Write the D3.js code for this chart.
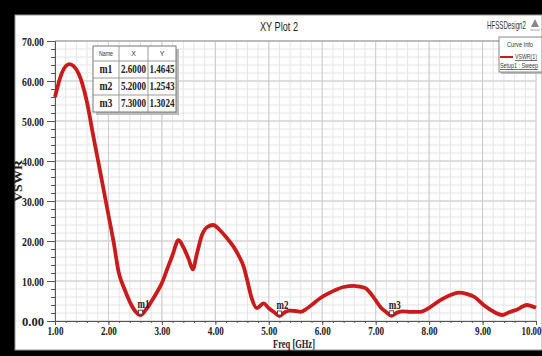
<!DOCTYPE html>
<html>
<head>
<meta charset="utf-8">
<script src="https://cdn.jsdelivr.net/npm/d3@7"></script>
<style>
  body { margin: 0; background: #000; }
  svg { display: block; }
  .tick-label { font-family: "Liberation Serif", "DejaVu Serif", serif; font-weight: bold; font-size: 12px; fill: #222; }
  .sans { font-family: "Liberation Sans", Arial, sans-serif; }
</style>
</head>
<body>
<svg id="chart" width="542" height="356"></svg>
<script>
// Frequency sweep (GHz) and VSWR
const freq = [1.0, 1.125, 1.27, 1.44, 1.59, 1.72, 1.8, 1.9, 2.0, 2.1, 2.19, 2.3, 2.4, 2.5, 2.6, 2.7, 2.8, 2.9, 3.0,
  3.1, 3.2, 3.31, 3.4, 3.5, 3.58, 3.65, 3.75, 3.85, 3.96, 4.1, 4.2, 4.34, 4.45, 4.53, 4.6, 4.68, 4.78, 4.9, 5.0,
  5.1, 5.2, 5.3, 5.4, 5.5, 5.6, 5.7, 5.8, 5.96, 6.1, 6.27, 6.4, 6.59, 6.7, 6.81, 6.9, 7.02, 7.1, 7.2, 7.3, 7.4,
  7.52, 7.65, 7.84, 8.0, 8.21, 8.4, 8.55, 8.7, 8.85, 9.02, 9.15, 9.25, 9.37, 9.5, 9.65, 9.75, 9.83, 9.9, 10.0];
const vswr = [56, 61.9, 64.2, 61.9, 55.2, 46, 40.5, 33.5, 26.5, 19.5, 12.3, 8, 4.8, 2.5, 1.46, 2.8, 4.8, 7, 9.5,
  13, 16.5, 20.2, 18.5, 15.5, 12.9, 16.5, 21.5, 23.5, 24, 22.5, 21, 18.6, 16, 13.6, 10, 5.7, 3.2, 4.4, 3.2,
  2.2, 1.25, 2.2, 2.6, 2.5, 2.3, 3, 4, 5.7, 6.8, 7.9, 8.5, 8.8, 8.6, 8.2, 7, 4.8, 3.3, 2.2, 1.3, 2.1,
  2.4, 2.3, 2.3, 3.3, 5.2, 6.5, 7.1, 6.8, 6, 4, 2.8, 2, 1.5, 2.2, 2.9, 3.6, 4, 3.8, 3.3];

// Markers
const markerNames = ["m1", "m2", "m3"];
const markerX = [2.6, 5.2, 7.3];
const markerY = [1.4645, 1.2543, 1.3024];

const xTicks = [1, 2, 3, 4, 5, 6, 7, 8, 9, 10];
const yTicks = [0, 10, 20, 30, 40, 50, 60, 70];

const svg = d3.select("#chart");

// the screenshot fonts are narrow: scale each text horizontally to its measured width
function squeeze(sel, w) {
  sel.each(function() {
    const n = this.getComputedTextLength();
    if (!n) return;
    const s = w / n;
    const x0 = +(this.getAttribute("x") || 0);
    const prev = this.getAttribute("transform") || "";
    this.setAttribute("transform", prev + " translate(" + x0 + ",0) scale(" + s + ",1) translate(" + (-x0) + ",0)");
  });
  return sel;
}

// black frame + white panel
svg.append("rect").attr("width", 542).attr("height", 356).attr("fill", "#000");
svg.append("rect").attr("x", 15).attr("y", 15).attr("width", 527).attr("height", 335)
  .attr("fill", "#fff").attr("stroke", "#999").attr("stroke-width", 1);

const x = d3.scaleLinear().domain([1, 10]).range([55, 536]);
const y = d3.scaleLinear().domain([0, 70]).range([321, 41]);

// grid
const grid = svg.append("g");
grid.selectAll(".vminor").data(d3.range(1, 10.001, 0.2)).enter().append("line")
  .attr("x1", d => x(d)).attr("x2", d => x(d)).attr("y1", y(70)).attr("y2", y(0))
  .attr("stroke", "#e4e4e4").attr("stroke-width", 1);
grid.selectAll(".hminor").data(d3.range(0, 70.001, 2)).enter().append("line")
  .attr("x1", x(1)).attr("x2", x(10)).attr("y1", d => y(d)).attr("y2", d => y(d))
  .attr("stroke", "#e4e4e4").attr("stroke-width", 1);
grid.selectAll(".vmajor").data(xTicks).enter().append("line")
  .attr("x1", d => x(d)).attr("x2", d => x(d)).attr("y1", y(70)).attr("y2", y(0))
  .attr("stroke", "#cccccc").attr("stroke-width", 1);
grid.selectAll(".hmajor").data(yTicks).enter().append("line")
  .attr("x1", x(1)).attr("x2", x(10)).attr("y1", d => y(d)).attr("y2", d => y(d))
  .attr("stroke", "#cccccc").attr("stroke-width", 1);

// axes
const yAxis = svg.append("g").attr("transform", "translate(" + x(1) + ",0)")
  .call(d3.axisLeft(y).tickValues(yTicks).tickSize(8).tickFormat(d3.format(".2f")));
const yMinor = svg.append("g").attr("transform", "translate(" + x(1) + ",0)")
  .call(d3.axisLeft(y).tickValues(d3.range(0, 70.001, 2)).tickSize(4).tickFormat(""));
const xAxis = svg.append("g").attr("transform", "translate(0," + y(0) + ")")
  .call(d3.axisBottom(x).tickValues(xTicks).tickSize(4).tickFormat(d3.format(".2f")));
const xMinor = svg.append("g").attr("transform", "translate(0," + y(0) + ")")
  .call(d3.axisBottom(x).tickValues(d3.range(1, 10.001, 0.2)).tickSize(2).tickFormat(""));

[yAxis, yMinor, xAxis, xMinor].forEach(a => {
  a.select(".domain").attr("stroke", "#555");
  a.selectAll(".tick line").attr("stroke", "#555");
});
squeeze(yAxis.selectAll("text").attr("class", "tick-label").attr("x", -11).attr("dy", "0.35em"), 22);
xAxis.selectAll("text").attr("class", "tick-label").attr("y", 5).attr("dy", "0.71em");
// last label sits against the right edge, as in the screenshot
xAxis.selectAll("text").filter(d => d === 10).attr("text-anchor", "end").attr("x", 5);
xAxis.selectAll("text").each(function(d) { squeeze(d3.select(this), d >= 10 ? 20 : 16); });

// top border of plot
svg.append("line").attr("x1", x(1)).attr("x2", x(10)).attr("y1", y(70)).attr("y2", y(70))
  .attr("stroke", "#999");

// axis titles
squeeze(svg.append("text").attr("class", "tick-label").attr("x", 294).attr("y", 348)
  .attr("text-anchor", "middle").style("font-size", "12px").text("Freq [GHz]"), 42);
squeeze(svg.append("text").attr("class", "tick-label")
  .attr("transform", "translate(22,181) rotate(-90)")
  .attr("text-anchor", "middle").style("font-size", "13px").text("VSWR"), 42);

// title
squeeze(svg.append("text").attr("class", "sans").attr("x", 279).attr("y", 31)
  .attr("text-anchor", "middle").style("font-size", "12px").attr("fill", "#222").text("XY Plot 2"), 38);
squeeze(svg.append("text").attr("class", "sans").attr("x", 487).attr("y", 29)
  .style("font-size", "10px").attr("fill", "#333").text("HFSSDesign2"), 39);
svg.append("path").attr("d", "M535,19 L531,27 L539,27 Z").attr("fill", "#888");
svg.append("line").attr("x1", 530).attr("x2", 540).attr("y1", 30).attr("y2", 30).attr("stroke", "#aaa");

// curve
const path = d3.line().x(d => x(d[0])).y(d => y(d[1])).curve(d3.curveMonotoneX);
svg.append("path").datum(d3.zip(freq, vswr))
  .attr("d", path).attr("fill", "none").attr("stroke", "#c81b1b").attr("stroke-width", 3.8)
  .attr("stroke-linejoin", "round");

// markers on the curve
const mk = svg.append("g");
markerNames.forEach((name, i) => {
  const px = x(markerX[i]), py = y(markerY[i]);
  mk.append("rect").attr("x", px - 2).attr("y", py - 5).attr("width", 4).attr("height", 4)
    .attr("fill", "#fff").attr("stroke", "#333").attr("stroke-width", 0.8);
  squeeze(mk.append("text").attr("class", "tick-label").attr("x", px - 3).attr("y", py - 7)
    .style("font-size", "12px").text(name), 12);
});

// marker table
const tbl = svg.append("g");
const tx = 93, ty = 46, colW = [26, 29, 28], rowH = [15, 17, 17, 17];
const tw = d3.sum(colW), th = d3.sum(rowH);
tbl.append("rect").attr("x", tx + 3).attr("y", ty + 3).attr("width", tw).attr("height", th).attr("fill", "#bbb");
tbl.append("rect").attr("x", tx).attr("y", ty).attr("width", tw).attr("height", th)
  .attr("fill", "#fff").attr("stroke", "#777");
const colX = [tx, tx + colW[0], tx + colW[0] + colW[1], tx + tw];
const rowY = [ty, ty + rowH[0], ty + rowH[0] + rowH[1], ty + rowH[0] + rowH[1] + rowH[2], ty + th];
colX.slice(1, 3).forEach(cx => tbl.append("line").attr("x1", cx).attr("x2", cx).attr("y1", ty).attr("y2", ty + th).attr("stroke", "#999"));
rowY.slice(1, 4).forEach(ry => tbl.append("line").attr("x1", tx).attr("x2", tx + tw).attr("y1", ry).attr("y2", ry).attr("stroke", "#999"));
["Name", "X", "Y"].forEach((h, j) => {
  const t = tbl.append("text").attr("class", "sans").attr("x", (colX[j] + colX[j + 1]) / 2).attr("y", ty + 10)
    .attr("text-anchor", "middle").style("font-size", "7px").attr("fill", "#333").text(h);
  if (h === "Name") squeeze(t, 14);
});
markerNames.forEach((name, i) => {
  const cells = [name, markerX[i].toFixed(4), markerY[i].toFixed(4)];
  cells.forEach((c, j) => {
    squeeze(tbl.append("text").attr("class", "tick-label").attr("x", (colX[j] + colX[j + 1]) / 2)
      .attr("y", (rowY[i + 1] + rowY[i + 2]) / 2 + 4).attr("text-anchor", "middle")
      .style("font-size", "12px").text(c), j === 0 ? 13 : 25);
  });
});

// curve info legend
const lg = svg.append("g");
lg.append("rect").attr("x", 501).attr("y", 39).attr("width", 43).attr("height", 35).attr("fill", "#bbb");
lg.append("rect").attr("x", 499).attr("y", 37).attr("width", 43).attr("height", 35)
  .attr("fill", "#fff").attr("stroke", "#888");
squeeze(lg.append("text").attr("class", "sans").attr("x", 507).attr("y", 47)
  .style("font-size", "7px").attr("fill", "#333").text("Curve Info"), 26);
lg.append("line").attr("x1", 500).attr("x2", 513).attr("y1", 57).attr("y2", 57)
  .attr("stroke", "#c81b1b").attr("stroke-width", 2);
squeeze(lg.append("text").attr("class", "sans").attr("x", 515).attr("y", 59)
  .style("font-size", "7px").style("text-decoration", "underline").attr("fill", "#333").text("VSWR(1)"), 22);
squeeze(lg.append("text").attr("class", "sans").attr("x", 500).attr("y", 68)
  .style("font-size", "7px").style("text-decoration", "underline").attr("fill", "#333").text("Setup1 : Sweep"), 38);
</script>
</body>
</html>
